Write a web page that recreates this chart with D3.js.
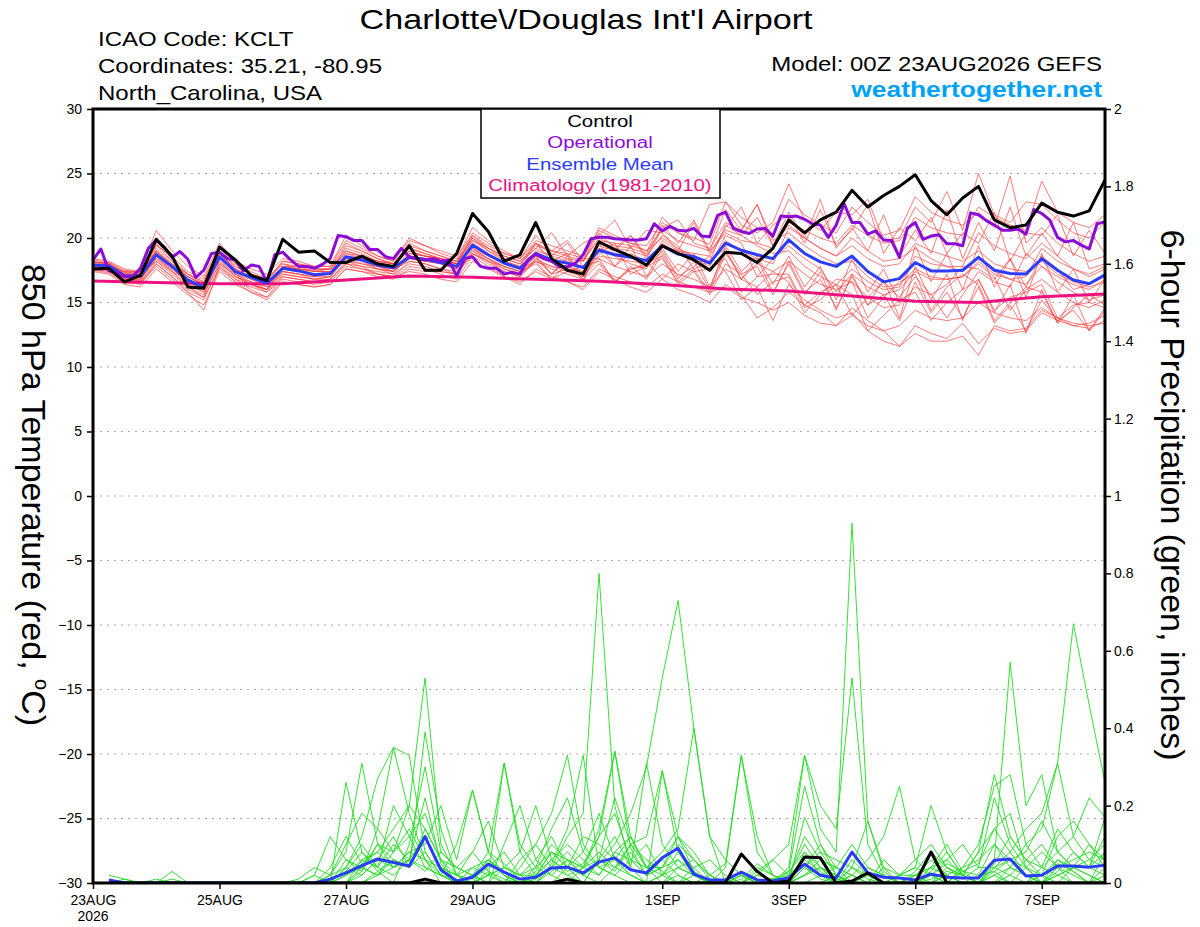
<!DOCTYPE html>
<html>
<head>
<meta charset="utf-8">
<script src="https://cdn.jsdelivr.net/npm/d3@7"></script>
<style>
  body { margin: 0; background: #fff; }
  svg text { font-family: "Liberation Sans", Arial, sans-serif; }
</style>
</head>
<body>
<script>
// ---- data ----
const runStartUTC = Date.UTC(2026, 7, 23, 0);
const memberStepHours = 6;       // ensemble members, control, mean
const operationalStepHours = 3;  // operational run
const climatologyStepHours = 24; // daily climatology
const forecastHours = 384;

// 850 hPa temperature, degC, every 6 h from 00Z 23AUG
const controlTemp = [17.6,17.65,16.6,17.1, 19.9,18.6,16.2,16.1, 19.3,18.3,17.1,16.7, 19.9,18.9,19.0,18.1,
  18.1,18.6,18.0,17.8, 19.4,17.5,17.5,18.8, 21.9,20.5,18.2,18.7, 21.2,18.4,17.5,17.2,
  19.7,19.1,18.6,17.9, 19.4,18.8,18.3,17.5, 18.9,18.8,18.1,19.2, 21.4,20.4,21.4,22.0,
  23.7,22.4,23.3,24.0, 24.9,22.9,21.8,23.1, 24.0,21.4,20.8,21.0, 22.7,22.0,21.7,22.1, 24.5];

const meanTemp = [17.9,17.85,17.05,17.05, 18.7,17.8,16.75,16.15, 18.55,17.4,16.95,16.5, 17.65,17.45,17.15,17.25,
  18.55,18.3,17.9,17.7, 18.5,18.35,18.1,17.8, 19.45,18.7,18.05,17.65, 18.8,18.3,18.05,17.7,
  19.05,18.7,18.5,18.25, 19.4,18.75,18.55,18.05, 19.6,19.05,18.7,18.4, 19.85,18.8,18.15,17.8,
  18.6,17.4,16.6,16.85, 18.1,17.45,17.45,17.5, 18.5,17.5,17.25,17.2, 18.4,17.5,16.75,16.45, 17.15];

// operational, every 3 h
const operationalTemp = [18.3,19.15,17.45,17.3,17.0,17.0,17.65,19.2, 19.85,19.3,18.5,18.95,18.35,16.95,17.5,18.8,
  18.9,18.4,18.3,17.45,17.9,17.8,16.6,18.7, 18.9,18.3,17.8,17.8,17.65,17.95,18.4,20.2,
  20.1,19.8,19.8,19.1,19.1,18.55,18.4,19.2, 18.55,18.4,18.3,18.4,18.2,18.3,17.05,18.4,
  18.55,17.8,17.65,17.65,17.2,17.35,17.2,18.3, 18.75,18.4,18.2,17.8,17.75,18.05,18.7,19.95,
  20.05,20.05,19.95,19.9,19.85,19.85,19.95,21.1, 20.55,20.9,20.6,20.55,20.75,20.15,20.1,21.75,
  22.0,20.75,20.5,20.35,20.7,20.75,20.15,21.7, 21.65,21.7,21.45,21.1,21.0,20.05,21.0,22.65,
  21.2,21.2,20.3,20.55,19.85,19.8,18.5,20.75, 21.2,19.9,20.15,20.25,19.55,19.55,19.4,21.95,
  21.8,21.35,21.0,20.6,20.6,20.7,20.3,22.2, 21.9,21.4,20.05,19.7,19.8,19.45,19.15,21.1, 21.25];

// 1981-2010 climatology, daily
const climatologyTemp = [16.67,16.55,16.45,16.45,16.75,17.05,16.95,16.8,16.65,16.4,16.05,15.9,15.5,15.1,15.0,15.45,15.65];

// ensemble members (red), every 6 h
const memberTemps = [
  [18.2,18.0,17.2,17.0, 19.5,18.2,17.0,16.3, 19.0,17.8,17.2,16.8, 18.0,17.6,17.5,17.6, 19.2,18.8,18.2,18.0, 19.6,19.0,18.6,18.2, 20.4,19.6,18.8,18.4,
   19.8,19.4,19.0,18.6, 20.6,20.0,19.6,19.4, 21.2,20.4,20.0,19.5, 22.8,21.0,20.4,21.2, 24.2,21.4,20.6,22.0, 21.8,23.0,19.8,20.0, 22.4,21.2,23.6,20.6, 25.0,21.8,21.2,22.8, 22.6,21.4,20.4,20.0, 21.2],
  [17.6,17.6,16.8,16.6, 18.2,17.2,16.2,15.6, 18.0,16.8,16.4,16.0, 17.0,16.8,16.6,16.8, 18.0,17.8,17.2,17.0, 17.8,17.6,17.2,16.8, 18.6,17.8,17.0,16.4,
   17.6,17.0,16.6,16.0, 17.4,16.8,16.2,15.8, 16.8,16.0,15.6,15.0, 16.4,15.6,13.8,14.6, 15.8,14.8,14.2,13.2, 14.6,13.6,12.8,11.6, 13.2,12.6,12.2,13.4, 11.8,13.0,12.6,12.8, 14.2,13.6,13.2,13.0, 13.6],
  [17.8,17.9,17.4,17.2, 19.0,18.0,17.2,16.6, 18.8,17.6,16.8,16.2, 17.2,17.0,16.8,17.0, 18.4,18.0,17.6,17.4, 18.8,18.6,18.4,18.0, 19.8,19.0,18.4,18.0,
   19.2,18.6,18.2,17.8, 19.6,19.2,19.0,18.6, 20.2,19.4,17.6,18.2, 19.2,16.8,18.0,17.4, 18.2,17.2,16.4,16.0, 16.6,15.4,14.6,14.8, 16.2,15.6,13.8,15.6, 17.4,16.6,16.2,18.8, 17.8,17.0,16.4,16.0, 16.8],
  [18.0,17.4,16.6,16.4, 18.0,17.0,15.8,14.4, 17.8,16.6,15.8,15.4, 16.6,16.4,16.2,16.4, 17.6,17.4,17.0,16.8, 17.6,17.4,17.4,17.2, 18.8,18.2,17.6,17.2,
   18.2,17.8,17.6,17.4, 18.6,18.4,18.2,18.0, 19.4,19.0,18.8,18.6, 20.6,20.2,21.6,19.4, 21.0,20.0,19.2,18.6, 19.4,18.4,17.8,18.0, 19.6,19.0,18.6,18.2, 19.0,18.0,17.6,17.4, 18.2,17.2,16.6,16.2, 16.6],
  [17.9,18.0,17.0,16.9, 18.8,17.8,17.0,16.4, 18.6,17.2,16.6,16.0, 17.8,17.8,17.6,17.6, 19.0,18.6,18.0,17.6, 18.2,18.0,17.6,17.2, 19.0,18.2,17.4,17.0,
   18.4,17.8,17.4,17.0, 18.4,17.8,17.4,17.0, 18.0,17.2,16.8,16.2, 17.6,16.8,16.2,13.6, 16.4,15.2,14.4,13.8, 14.2,12.8,12.0,11.6, 12.6,12.0,12.0,12.4, 10.9,13.2,12.8,13.0, 14.4,13.8,13.2,13.4, 14.0],
  [18.4,18.2,17.6,17.4, 20.6,19.0,17.8,17.0, 19.6,18.2,17.6,17.2, 18.4,18.2,17.8,17.8, 20.2,19.4,18.6,18.2, 20.0,19.4,18.8,18.4, 20.8,19.8,19.0,18.4,
   19.6,19.0,18.6,18.2, 20.0,19.4,19.2,18.8, 21.6,20.4,19.8,22.6, 22.8,21.6,20.8,20.2, 23.0,21.8,21.0,20.4, 22.4,21.2,20.2,20.6, 23.2,22.0,21.4,21.0, 22.0,20.8,24.8,19.6, 20.8,19.6,18.8,18.2, 18.6],
  [17.4,17.2,16.4,16.2, 17.6,16.6,15.6,14.8, 17.4,16.4,15.8,15.2, 16.6,16.4,16.2,16.4, 17.6,17.4,17.2,17.0, 18.2,18.0,17.6,17.4, 18.8,18.2,17.8,17.4,
   18.6,17.2,17.6,18.4, 18.4,16.6,17.6,17.8, 19.0,17.0,17.8,18.6, 17.4,15.2,16.2,17.4, 16.6,14.2,15.6,16.8, 16.6,13.8,15.4,16.6, 17.2,14.4,16.2,17.2, 16.4,13.6,15.0,16.2, 15.8,13.4,14.6,15.6, 14.8],
  [18.0,17.8,17.4,17.4, 19.4,18.6,17.4,16.8, 19.2,18.0,17.4,16.8, 18.0,17.8,17.4,17.4, 19.0,18.6,18.2,18.0, 19.2,18.8,18.4,18.0, 20.2,19.2,18.4,18.0,
   19.6,18.8,18.4,18.2, 20.8,20.2,19.6,19.0, 20.0,19.2,18.6,18.0, 19.8,19.0,18.4,18.0, 20.8,20.0,19.2,18.6, 20.0,19.0,18.2,18.4, 19.2,18.4,17.8,17.4, 18.6,17.4,16.8,16.4, 17.8,16.6,15.8,15.2, 15.6],
  [17.6,17.4,16.8,16.8, 18.4,17.4,16.4,15.8, 18.0,17.2,16.8,16.4, 17.4,17.2,16.8,16.8, 18.2,17.8,17.6,17.4, 18.4,18.2,18.0,17.6, 19.0,18.4,17.8,17.4,
   18.0,16.8,17.4,17.8, 18.2,16.6,17.6,18.0, 18.6,16.4,17.4,17.6, 18.4,15.8,17.0,17.2, 17.2,14.8,15.8,16.4, 15.6,12.8,14.0,15.2, 15.8,13.6,15.0,16.0, 16.8,14.4,15.4,15.8, 16.4,13.8,14.8,15.0, 14.6],
  [18.1,18.1,17.3,17.3, 19.0,18.0,17.0,16.4, 18.8,17.6,17.0,16.6, 17.8,17.6,17.4,17.6, 18.8,18.6,18.2,18.0, 19.0,18.6,18.4,18.2, 19.8,19.2,18.6,18.2,
   19.4,19.0,18.8,18.4, 19.8,19.6,19.4,19.0, 20.6,19.8,19.4,19.0, 20.4,19.8,19.6,19.2, 21.2,20.6,20.0,19.6, 21.0,20.2,19.6,19.8, 21.6,20.8,20.4,20.2, 22.4,21.6,21.0,20.6, 24.4,22.0,21.2,20.8, 21.8],
  [17.7,17.7,17.0,16.9, 18.6,17.6,16.6,16.0, 18.2,17.0,16.4,15.8, 17.2,17.0,16.8,17.0, 18.6,18.4,18.0,17.8, 18.6,18.4,18.0,17.6, 19.2,18.4,17.8,17.4,
   18.6,17.2,18.4,17.6, 19.0,17.8,18.8,18.2, 16.8,18.0,17.4,15.6, 18.0,17.2,15.6,16.6, 17.0,14.6,15.2,16.4, 14.0,15.4,16.6,15.4, 17.0,15.6,16.4,17.8, 17.6,16.8,18.4,16.2, 18.6,17.6,16.0,16.4, 17.0],
  [18.3,18.1,17.5,17.3, 19.6,18.4,17.2,16.6, 19.4,18.0,17.2,16.6, 18.2,18.0,17.6,17.6, 19.6,19.0,18.4,18.0, 19.4,19.0,18.6,18.2, 20.0,19.0,18.2,17.8,
   19.0,18.6,19.6,17.8, 19.4,19.0,20.2,18.4, 20.8,21.4,19.6,19.2, 21.2,20.6,22.6,19.8, 20.4,19.4,18.6,18.0, 18.2,17.0,16.2,16.4, 17.6,17.0,16.8,17.0, 18.2,17.2,16.8,17.0, 19.2,18.2,17.6,17.2, 17.8],
  [17.5,17.5,16.6,16.6, 18.0,17.0,16.0,15.4, 17.6,16.6,16.2,15.8, 16.8,16.6,16.4,16.6, 17.8,17.6,17.2,17.0, 17.4,17.2,16.8,16.6, 18.2,17.6,17.0,16.6,
   17.4,16.8,16.6,16.2, 17.6,17.0,16.6,16.2, 17.2,16.6,16.2,15.8, 16.2,15.4,15.0,14.4, 15.0,14.0,13.4,13.2, 14.0,13.2,12.8,13.2, 14.4,13.8,13.6,13.8, 15.0,14.2,13.8,13.6, 14.6,13.8,13.4,13.2, 13.4],
  [17.9,17.7,17.1,17.1, 18.9,17.9,16.7,16.1, 18.4,17.4,17.0,16.6, 17.6,17.4,17.2,17.4, 18.4,18.2,17.8,17.4, 18.4,18.2,18.0,17.6, 19.6,18.8,18.0,17.6,
   18.8,18.2,17.8,17.4, 19.2,18.8,18.6,18.2, 19.6,18.8,18.4,17.8, 20.2,19.6,17.0,18.4, 19.4,18.4,17.6,15.8, 17.2,16.2,15.6,16.0, 17.4,16.8,16.8,17.0, 18.0,17.0,14.4,16.0, 16.8,15.8,15.0,14.6, 15.2],
  [17.8,17.6,16.8,16.7, 18.6,17.4,16.2,15.4, 18.8,17.6,17.0,16.4, 17.4,17.2,17.0,17.2, 18.8,18.4,17.8,17.4, 19.0,18.6,18.2,17.8, 19.4,18.6,18.0,17.6,
   18.2,17.6,17.2,16.8, 19.2,18.6,18.0,17.6, 19.8,19.0,18.6,18.2, 21.0,20.2,19.4,18.8, 19.0,17.8,17.0,16.4, 17.6,16.6,16.0,16.2, 18.6,18.0,17.8,17.8, 20.4,19.4,18.8,18.4, 19.6,18.6,17.6,17.0, 17.6],
  [18.0,18.0,17.3,17.1, 18.2,17.4,16.8,16.2, 18.6,17.2,16.4,16.0, 17.6,17.6,17.4,17.4, 18.2,18.0,17.8,17.6, 18.6,18.4,18.2,18.0, 19.2,18.6,18.2,17.8,
   19.6,18.2,18.8,17.0, 18.8,19.6,17.2,17.8, 18.4,16.6,17.6,15.8, 18.8,17.2,17.8,15.6, 18.2,15.8,16.8,14.6, 17.0,14.8,15.6,13.6, 16.6,14.2,15.8,13.8, 16.2,13.4,14.8,12.8, 15.2,13.6,14.4,12.8, 14.4],
  [17.7,17.9,17.2,17.1, 19.2,18.2,17.2,16.4, 18.2,17.0,16.6,16.2, 17.8,17.6,17.2,17.2, 19.4,19.0,18.4,18.0, 19.2,18.8,18.4,18.0, 20.0,19.2,18.6,18.2,
   19.2,20.4,18.6,19.6, 20.2,21.4,19.2,20.6, 20.4,19.0,21.2,18.8, 20.8,22.4,19.6,21.0, 21.8,19.6,22.2,19.4, 20.6,22.6,18.8,20.8, 19.8,21.6,18.8,20.4, 19.6,22.0,18.2,20.4, 20.2,21.8,18.6,20.6, 18.8],
  [17.5,17.3,16.5,16.5, 17.8,16.8,15.8,15.2, 17.8,16.8,16.0,15.4, 17.0,16.8,16.6,16.8, 18.0,17.6,17.4,17.2, 18.0,17.8,17.4,17.2, 18.8,18.0,17.4,17.0,
   18.2,16.8,18.0,16.8, 18.0,16.6,17.8,16.8, 18.8,16.8,18.2,16.0, 19.4,17.4,18.6,16.4, 18.6,16.2,17.8,15.2, 18.4,15.8,17.6,15.0, 19.4,16.6,18.8,16.0, 19.4,16.2,18.4,15.4, 18.8,15.8,17.6,15.0, 16.8],
  [18.2,17.9,17.2,17.2, 19.0,17.8,16.6,15.8, 18.8,17.8,17.2,16.8, 18.2,18.0,17.8,17.8, 19.8,19.2,18.6,18.2, 19.8,19.4,19.0,18.6, 20.2,19.4,18.8,18.4,
   20.2,19.0,19.8,18.2, 20.4,19.2,20.2,18.6, 21.0,19.6,21.4,19.0, 22.2,20.6,22.6,19.4, 22.0,20.0,23.0,19.2, 20.8,19.0,21.8,18.6, 20.6,18.8,22.2,18.4, 21.2,19.0,22.4,18.6, 20.4,18.6,21.2,17.6, 18.0],
  [17.8,17.8,16.9,16.8, 18.4,17.6,16.6,16.0, 18.4,17.0,16.4,16.0, 17.4,17.2,17.0,17.0, 18.6,18.2,17.6,17.2, 18.8,18.6,18.4,18.0, 19.2,18.4,17.6,17.2,
   18.4,17.2,18.6,16.6, 19.6,17.8,19.4,17.0, 19.2,17.4,18.8,16.2, 19.0,16.8,18.4,15.8, 18.0,15.6,17.4,14.4, 17.2,14.8,16.8,13.8, 17.8,15.2,17.2,13.6, 16.8,14.2,16.4,12.6, 16.0,13.4,15.6,12.8, 14.6]
];

// 6-hour precipitation, hundredths of an inch, from 06Z 23AUG (t = 6 h .. 384 h)
const controlPrecip = [0,0,0, 0,0,0,0, 0,0,0,0, 0,0,0,0, 0,0,0,0, 0,1,0,0, 0,0,0,0, 0,0,1,0, 0,0,0,0, 0,0,0,0,
  0,7.5,3,0, 0.5,6.7,6.5,0, 0.5,2.6,0,0, 0,8,0,0, 0,0,0,0, 0,0,0,0, 0];
const meanPrecip = [0.8,0,0, 0,0,0,0, 0,0,0,0, 0,0,0,1, 2.6,4.5,6.2,5.3, 4.4,12,3.4,0.5, 1.5,4.9,2.8,1, 1.5,3.9,4.1,2.6,
  5.4,6.5,3.4,2.6, 6.5,9,2.3,0.8, 0.8,2.8,0.8,0.5, 1.3,4.9,2,1.3, 8,2.6,1.5,1.3, 0.8,2.3,1.5,1.3, 1.3,5.9,6.2,1.8, 2,4.4,4.4,4.1, 4.6];
const memberPrecip = [
  [2,1,0, 0,0,0,0, 0,0,0,0, 0,0,0,4, 12,5,8,14, 20,53,10,2, 0,6,3,0, 1,4,12,18, 80,20,4,0, 2,6,3,0, 0,1,5,2, 0,4,1,0, 6,2,0,0, 0,3,8,2, 0,5,12,6, 2,0,4,10, 6],
  [0,0,0, 0,3,0,0, 0,0,0,0, 0,0,2,0, 26,8,3,6, 4,12,3,0, 2,8,5,1, 0,3,6,2, 5,10,18,30, 53,73,40,12, 0,2,0,1, 3,8,2,0, 4,1,0,0, 2,0,0,3, 5,14,8,2, 0,6,3,0, 8],
  [0,0,0, 0,0,0,0, 0,0,0,0, 0,0,0,2, 8,31,10,4, 6,22,5,0, 0,2,31,8, 2,6,3,5, 12,34,9,2, 4,10,6,1, 0,0,3,6, 10,33,14,8, 93,16,3,0, 0,2,5,3, 0,3,6,4, 2,5,3,0, 4],
  [0,0,0, 0,0,0,0, 0,0,0,0, 0,0,0,0, 4,12,27,35, 33,8,2,1, 0,3,1,0, 2,8,4,0, 6,3,10,6, 3,0,2,0, 0,0,0,1, 2,6,3,0, 4,2,0,0, 0,1,3,2, 0,6,57,20, 28,8,4,2, 0],
  [0,0,0, 1,0,0,0, 0,0,0,0, 0,0,0,0, 0,3,14,8, 12,18,6,2, 8,3,0,0, 0,5,14,33, 4,6,2,0, 0,0,0,2, 5,33,8,2, 0,2,4,1, 0,0,0,2, 4,2,0,0, 0,0,4,10, 14,31,67,46, 26],
  [1,0,0, 0,0,0,0, 0,0,0,0, 0,0,2,12, 6,3,10,6, 4,39,14,2, 1,4,8,2, 0,0,4,8, 18,6,2,0, 29,12,3,0, 0,2,0,0, 4,33,20,14, 53,10,2,0, 0,0,2,0, 0,2,0,4, 8,4,0,0, 2],
  [0,0,0, 0,0,0,0, 0,0,0,0, 0,0,0,0, 0,2,6,4, 8,10,20,6, 24,8,2,0, 3,10,6,4, 2,8,12,4, 8,14,40,12, 6,2,0,0, 0,0,2,4, 2,0,0,0, 3,8,4,1, 4,22,10,4, 0,3,8,4, 2],
  [0,0,0, 0,0,0,0, 0,0,0,0, 0,0,0,1, 3,8,4,10, 6,4,2,0, 0,0,10,20, 6,2,0,4, 6,12,4,31, 10,4,2,0, 4,33,12,2, 0,0,0,2, 0,0,0,0, 2,4,10,3, 2,3,0,0, 2,12,16,10, 4],
  [0,0,0, 0,0,0,0, 0,0,0,0, 0,1,4,2, 10,18,14,35, 18,6,0,0, 4,2,0,0, 4,14,22,8, 4,2,6,10, 2,0,4,6, 2,0,0,0, 0,17,8,2, 0,4,2,0, 0,0,0,4, 10,25,28,10, 4,2,0,0, 0],
  [0,1,0, 0,0,0,0, 0,0,0,0, 0,0,0,0, 2,6,4,20, 12,4,2,0, 0,0,4,2, 6,12,4,2, 6,22,10,4, 2,8,4,0, 0,0,0,0, 3,25,10,4, 2,0,0,2, 6,10,4,2, 8,28,12,6, 4,14,8,4, 17],
  [0,0,0, 0,0,0,0, 0,0,0,0, 0,0,0,0, 0,0,3,0, 10,30,8,4, 2,6,2,0, 0,4,8,4, 14,34,12,4, 6,2,0,0, 0,0,2,1, 0,2,6,4, 10,4,2,0, 0,2,6,2, 0,4,8,14, 18,31,12,6, 10],
  [0,0,0, 0,0,0,0, 0,0,0,0, 0,0,0,0, 4,2,6,12, 4,14,6,0, 2,0,0,4, 10,18,33,10, 4,2,0,0, 0,4,2,0, 0,0,4,2, 0,4,2,0, 2,6,12,25, 6,2,0,0, 0,0,2,6, 10,4,2,0, 0],
  [0,0,0, 0,0,0,0, 0,0,0,0, 0,0,0,0, 6,4,2,6, 4,8,2,10, 24,8,31,10, 4,2,6,2, 0,4,8,2, 6,12,8,2, 0,0,0,0, 0,2,4,2, 0,0,0,0, 0,0,2,4, 6,10,4,2, 2,6,4,2, 0],
  [0,0,0, 0,1,0,0, 0,0,0,0, 0,0,0,0, 0,0,2,4, 6,12,4,2, 0,2,4,8, 20,6,2,4, 8,4,10,12, 29,8,2,0, 0,0,0,0, 0,4,10,2, 0,0,6,2, 4,20,8,2, 0,2,4,2, 0,4,6,8, 6],
  [0,0,0, 0,0,0,0, 0,0,0,0, 0,0,0,0, 2,4,10,8, 14,6,4,2, 4,6,2,0, 2,6,10,6, 2,8,6,4, 4,6,2,0, 0,2,0,0, 0,4,8,6, 4,16,4,2, 2,4,6,10, 4,4,6,8, 16,8,4,4, 12],
  [0,0,0, 0,0,0,0, 0,0,0,0, 0,0,0,0, 0,4,2,8, 20,14,6,4, 2,0,0,6, 10,4,2,0, 6,4,2,0, 2,4,6,2, 0,0,0,0, 0,8,4,0, 2,0,0,0, 0,0,4,2, 8,14,18,4, 0,2,4,4, 8],
  [0,0,0, 0,0,0,0, 0,0,0,0, 0,0,0,2, 4,10,4,2, 6,3,8,4, 8,16,4,2, 2,8,4,12, 10,6,12,4, 0,2,0,0, 0,2,0,0, 2,10,4,2, 0,0,4,0, 0,4,2,0, 0,4,2,0, 4,8,12,22, 17],
  [0,0,0, 0,0,0,0, 0,0,0,0, 0,0,0,0, 0,6,8,4, 8,6,2,0, 0,2,4,2, 4,8,6,4, 12,18,6,2, 4,12,6,2, 0,0,2,6, 2,12,6,4, 0,2,0,0, 2,6,2,0, 2,10,6,2, 0,2,4,6, 4]
];

// axes
const tempTicks = [30, 25, 20, 15, 10, 5, 0, -5, -10, -15, -20, -25, -30];
const precipTicks = [0, 0.2, 0.4, 0.6, 0.8, 1, 1.2, 1.4, 1.6, 1.8, 2];
const xTickDates = ["2026-08-23", "2026-08-25", "2026-08-27", "2026-08-29", "2026-09-01", "2026-09-03", "2026-09-05", "2026-09-07"];
const xTickLabels = ["23AUG", "25AUG", "27AUG", "29AUG", "1SEP", "3SEP", "5SEP", "7SEP"];
const yearLabel = "2026";

const headerLeft = ["ICAO Code: KCLT", "Coordinates: 35.21, -80.95", "North_Carolina, USA"];
const legendItems = [
  { name: "Control", color: "#000000" },
  { name: "Operational", color: "#8a0cd6" },
  { name: "Ensemble Mean", color: "#2b3cff" },
  { name: "Climatology (1981-2010)", color: "#ee1280" }
];

// ---- chart ----
const width = 1200, height = 927;
const plot = { left: 93, right: 1105, top: 109, bottom: 883 };
const textStretch = 1.2; // reference lettering is set wide

const svg = d3.select("body").append("svg")
  .attr("width", width).attr("height", height)
  .style("display", "block");

const x = d3.scaleUtc()
  .domain([new Date(runStartUTC), new Date(runStartUTC + forecastHours * 36e5)])
  .range([plot.left, plot.right]);
const yTemp = d3.scaleLinear().domain([-30, 30]).range([plot.bottom, plot.top]);
const yPrecip = d3.scaleLinear().domain([0, 2]).range([plot.bottom, plot.top]);

const timeAt = (i, step) => new Date(runStartUTC + i * step * 36e5);

function label(sel, px, py, txt, size, opts = {}) {
  return sel.append("text")
    .attr("transform", `translate(${px},${py}) scale(${opts.sx || textStretch},1)`)
    .attr("text-anchor", opts.anchor || "start")
    .style("font-size", size + "px")
    .style("font-weight", opts.weight || "normal")
    .attr("fill", opts.fill || "#000")
    .text(txt);
}

// titles
label(svg, 586, 29, "Charlotte\\/Douglas Int'l Airport", 28.5, { anchor: "middle" });
headerLeft.forEach((t, i) => label(svg, 98, 46 + i * 27, t, 20));
label(svg, 1102, 71, "Model: 00Z 23AUG2026 GEFS", 20, { anchor: "end" });
label(svg, 1102, 97, "weathertogether.net", 22, { anchor: "end", weight: "bold", fill: "#00a2f7" });

// grid
svg.append("g")
  .selectAll("line")
  .data(tempTicks.filter(d => d > -30 && d < 30))
  .join("line")
  .attr("x1", plot.left).attr("x2", plot.right)
  .attr("y1", d => yTemp(d)).attr("y2", d => yTemp(d))
  .attr("stroke", "#aaaaaa").attr("stroke-width", 1.2)
  .attr("stroke-dasharray", "2,5");

// clip
svg.append("clipPath").attr("id", "plotclip")
  .append("rect")
  .attr("x", plot.left).attr("y", plot.top)
  .attr("width", plot.right - plot.left).attr("height", plot.bottom - plot.top);

const lines = svg.append("g").attr("clip-path", "url(#plotclip)");

const tempLine = step => d3.line().x((d, i) => x(timeAt(i, step))).y(d => yTemp(d));
const precipLine = d3.line().x((d, i) => x(timeAt(i + 1, memberStepHours))).y(d => yPrecip(d / 100));

lines.append("g").selectAll("path").data(memberTemps).join("path")
  .attr("d", tempLine(memberStepHours))
  .attr("fill", "none").attr("stroke", "#ff3030").attr("stroke-width", 0.8).attr("stroke-opacity", 0.8);

lines.append("g").selectAll("path").data(memberPrecip).join("path")
  .attr("d", precipLine)
  .attr("fill", "none").attr("stroke", "#1fdc1f").attr("stroke-width", 0.9);

lines.append("path").datum(climatologyTemp)
  .attr("d", tempLine(climatologyStepHours))
  .attr("fill", "none").attr("stroke", "#ee1280").attr("stroke-width", 3);

lines.append("path").datum(meanTemp)
  .attr("d", tempLine(memberStepHours))
  .attr("fill", "none").attr("stroke", "#2b3cff").attr("stroke-width", 3).attr("stroke-linejoin", "round");

lines.append("path").datum(meanPrecip)
  .attr("d", precipLine)
  .attr("fill", "none").attr("stroke", "#2b3cff").attr("stroke-width", 3).attr("stroke-linejoin", "round");

lines.append("path").datum(operationalTemp)
  .attr("d", tempLine(operationalStepHours))
  .attr("fill", "none").attr("stroke", "#8a0cd6").attr("stroke-width", 3).attr("stroke-linejoin", "round");

lines.append("path").datum(controlTemp)
  .attr("d", tempLine(memberStepHours))
  .attr("fill", "none").attr("stroke", "#000").attr("stroke-width", 3).attr("stroke-linejoin", "round");

lines.append("path").datum(controlPrecip)
  .attr("d", precipLine)
  .attr("fill", "none").attr("stroke", "#000").attr("stroke-width", 3).attr("stroke-linejoin", "round");

// axes
const styleAxis = g => {
  g.select(".domain").remove();
  g.selectAll(".tick line").attr("stroke", "#000").attr("stroke-width", 1.5);
  g.selectAll(".tick text").attr("fill", "#000").style("font-size", "14px")
    .style("font-family", "'Liberation Sans', Arial, sans-serif");
};

svg.append("g")
  .attr("transform", `translate(${plot.left},0)`)
  .call(d3.axisLeft(yTemp).tickValues(tempTicks).tickSize(6).tickPadding(5))
  .call(styleAxis);

svg.append("g")
  .attr("transform", `translate(${plot.right},0)`)
  .call(d3.axisRight(yPrecip).tickValues(precipTicks).tickSize(6).tickPadding(3)
    .tickFormat(d => String(+d.toFixed(1))))
  .call(styleAxis);

svg.append("g")
  .attr("transform", `translate(0,${plot.bottom})`)
  .call(d3.axisBottom(x).tickValues(xTickDates.map(d => new Date(d + "T00:00:00Z")))
    .tickSize(6).tickPadding(6).tickFormat((d, i) => xTickLabels[i]))
  .call(styleAxis);

svg.append("text")
  .attr("x", x(new Date(xTickDates[0] + "T00:00:00Z"))).attr("y", 921)
  .attr("text-anchor", "middle").style("font-size", "14px")
  .text(yearLabel);

// frame
svg.append("rect")
  .attr("x", plot.left).attr("y", plot.top)
  .attr("width", plot.right - plot.left).attr("height", plot.bottom - plot.top)
  .attr("fill", "none").attr("stroke", "#000").attr("stroke-width", 3);

// legend
const legend = svg.append("g");
legend.append("rect")
  .attr("x", 481).attr("y", plot.top).attr("width", 239).attr("height", 89)
  .attr("fill", "#fff").attr("stroke", "#000").attr("stroke-width", 1.5);
legendItems.forEach((d, i) => label(legend, 600, 127 + i * 21.3, d.name, 17, { anchor: "middle", fill: d.color }));

// axis titles (read top to bottom)
const leftTitle = svg.append("text")
  .attr("transform", `translate(22,495) rotate(90)`)
  .attr("text-anchor", "middle").style("font-size", "34px");
leftTitle.append("tspan").text("850 hPa Temperature (red, ");
leftTitle.append("tspan").attr("dy", -13).style("font-size", "20px").text("o");
leftTitle.append("tspan").attr("dy", 13).text("C)");

svg.append("text")
  .attr("transform", `translate(1161,495) rotate(90)`)
  .attr("text-anchor", "middle").style("font-size", "34px")
  .text("6-hour Precipitation (green, inches)");
</script>
</body>
</html>
